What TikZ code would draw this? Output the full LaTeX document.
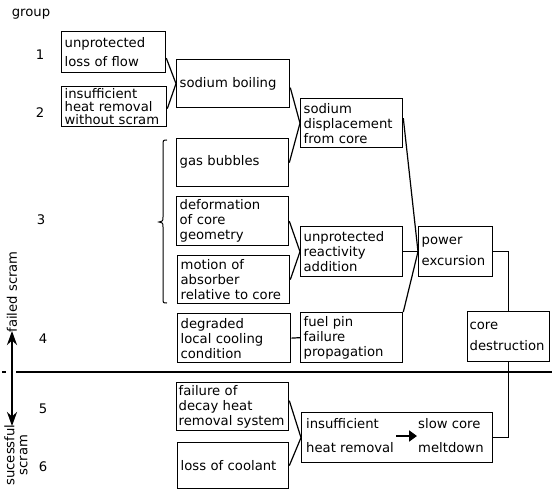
\documentclass[tikz,border=0pt]{standalone}
\usepackage{fontspec}
\setmainfont{DejaVu Sans}
\usetikzlibrary{arrows.meta,calc}
\newcommand\diagfont{\fontsize{13.2}{15}\selectfont}
\begin{document}
\begin{tikzpicture}[x=1pt,y=-1pt,
  box/.style={draw, line width=1.3pt, anchor=north west, inner xsep=3pt, inner ysep=0pt, align=left, font=\diagfont},
  plain/.style={inner sep=0pt, font=\diagfont},
  conn/.style={line width=1.2pt},
  bigarrow/.style={line width=2.8pt, {Stealth[length=14pt,width=10pt]}-{Stealth[length=14pt,width=10pt]}},
  smallarrow/.style={line width=2.6pt, -{Triangle[length=8pt,width=11pt]}}]
\useasboundingbox (0,0) rectangle (552,492);

% labels on the left
\node[plain] (grp) at (31,14) {group};
\node[plain] (g1) at (40,55) {1};
\node[plain] (g2) at (40,113) {2};
\node[plain] (g3) at (41,220) {3};
\node[plain] (g4) at (43,339) {4};
\node[plain] (g5) at (43,409) {5};
\node[plain] (g6) at (43,467) {6};
\node[plain, rotate=90] (fs) at (12,292) {failed scram};
\node[plain, rotate=90, align=center, font=\fontsize{13.2}{13}\selectfont] (ss) at (16,455) {sucessful\\scram};

% divider
\coordinate (dA) at (16,372);
\coordinate (dB) at (552,372);
\coordinate (dC) at (2,372);
\coordinate (dD) at (6,372);
\draw[line width=1.3pt] (dA) -- (dB);
\draw[line width=1.3pt] (dC) -- (dD);
\coordinate (arT) at (12,331);
\coordinate (arB) at (12,426);
\draw[bigarrow] (arB) -- (arT);

% boxes
\node[box, minimum width=104pt, minimum height=41pt, text width=98pt] (lof) at (61,31) {unprotected\\[4pt]loss of flow};
\node[box, minimum width=105pt, minimum height=40pt, text width=99pt, font=\fontsize{13.2}{13}\selectfont] (ihr) at (61,86) {insufficient\\heat removal\\without scram};
\node[box, minimum width=113pt, minimum height=48pt, text width=107pt] (sb) at (176,59) {sodium boiling};
\node[box, minimum width=102pt, minimum height=49pt, text width=96pt] (sd) at (300,98) {sodium\\displacement\\from core};
\node[box, minimum width=112pt, minimum height=48pt, text width=106pt] (gb) at (176,138) {\\[-6pt]gas bubbles};
\node[box, minimum width=112pt, minimum height=49pt, text width=106pt] (dcg) at (176,196) {deformation\\of core\\geometry};
\node[box, minimum width=112pt, minimum height=48pt, text width=106pt] (moa) at (177,255) {motion of\\absorber\\relative to core};
\node[box, minimum width=113pt, minimum height=49pt, text width=107pt] (dlc) at (177,313) {degraded\\local cooling\\condition};
\node[box, minimum width=102pt, minimum height=50pt, text width=96pt] (ura) at (300,226) {unprotected\\reactivity\\addition};
\node[box, minimum width=74pt, minimum height=50pt, text width=68pt] (pe) at (418,226) {power\\[6pt]excursion};
\node[box, minimum width=102pt, minimum height=50pt, text width=96pt] (fpf) at (300,312) {fuel pin\\failure\\propagation};
\node[box, minimum width=82pt, minimum height=50pt, inner xsep=2pt, text width=78pt] (cd) at (467,311) {core\\[6pt]destruction};
\node[box, minimum width=112pt, minimum height=48pt, inner xsep=2pt, text width=108pt] (fdh) at (176,382) {failure of\\decay heat\\removal system};
\node[box, minimum width=111pt, minimum height=46pt, text width=105pt] (loc) at (177,442) {loss of coolant};
\node[box, minimum width=191pt, minimum height=50pt] (ihrm) at (301,412) {};
\node[plain, anchor=west, align=left] (hrl) at (306,436) {insufficient\\[9pt]heat removal};
\node[plain, anchor=west, align=left] (hrr) at (418,436) {slow core\\[9pt]meltdown};
\draw[smallarrow] ([xshift=2pt]hrl.east) -- ([xshift=-1pt]hrr.west);

% brace
\coordinate (b1) at (167,140);
\coordinate (b2) at (163,146);
\coordinate (b3) at (163,217);
\coordinate (b4) at (159,222);
\coordinate (b5) at (163,227);
\coordinate (b6) at (163,298);
\coordinate (b7) at (167,303);
\draw[line width=1pt] (b1) .. controls (163,140) .. (b2) -- (b3) .. controls (163,221) .. (b4) .. controls (163,223) .. (b5) -- (b6) .. controls (163,303) .. (b7);

% connectors
\draw[conn] ([yshift=-6pt]lof.east) -- (sb.west);
\draw[conn] ([yshift=-2pt]ihr.east) -- (sb.west);
\draw[conn] ([yshift=-4pt]sb.east) -- (sd.west);
\draw[conn] (gb.east) -- (sd.west);
\draw[conn] ([yshift=5pt]sd.east) -- (pe.west);
\draw[conn] (ura.east) -- (pe.west);
\draw[conn] (fpf.north east) -- (pe.west);
\draw[conn] (dcg.east) -- (ura.west);
\draw[conn] (moa.east) -- (ura.west);
\draw[conn] (dlc.east) -- (fpf.west);
\draw[conn] (pe.east) -| (cd.north);
\draw[conn] (cd.south) |- (ihrm.east);
\draw[conn] ([yshift=6pt]fdh.east) -- (ihrm.west);
\draw[conn] (loc.east) -- (ihrm.west);
\end{tikzpicture}
\end{document}
